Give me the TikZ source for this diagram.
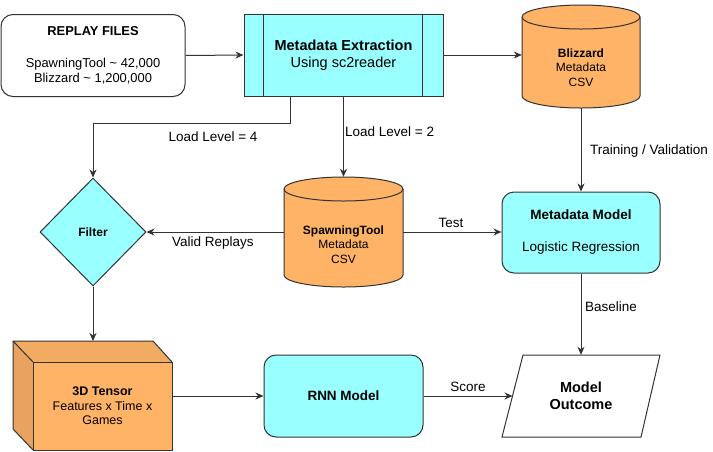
\documentclass[tikz,border=0pt]{standalone}
\usepackage{fontspec}
\setmainfont{Liberation Sans}
\usetikzlibrary{arrows.meta,calc,shapes.geometric}
\definecolor{cyanfill}{HTML}{99FFFF}
\definecolor{orangefill}{HTML}{FFB366}
\definecolor{tentopc}{HTML}{F2AC62}
\definecolor{tensidec}{HTML}{E8A360}
\definecolor{linecol}{HTML}{333333}
\tikzset{
  shp/.style={draw=linecol, line width=1pt},
  boxnode/.style={shp, align=center, inner sep=0pt},
  procbox/.style={boxnode, fill=cyanfill},
  roundbox/.style={boxnode, rounded corners=12pt},
  conn/.style={draw=linecol, line width=1pt, -{Stealth[length=8pt,width=7pt,inset=2.5pt]}},
  lbl/.style={inner sep=0pt, font=\fontsize{13.5}{15}\selectfont},
  cyltext/.style={align=center, inner sep=0pt, font=\fontsize{12}{14.5}\selectfont},
  ghost/.style={inner sep=0pt, rectangle},
}
\begin{document}
\begin{tikzpicture}[x=1pt,y=-1pt]
\useasboundingbox (0,0) rectangle (713,451);

% Replay files
\node[roundbox, minimum width=184pt, minimum height=82pt,
  font=\fontsize{12.9}{15.7}\selectfont] (replay) at (93,55.5)
  {\textbf{REPLAY FILES}\\[15.7pt]SpawningTool \textasciitilde{} 42,000\\Blizzard \textasciitilde{} 1,200,000};

% Metadata extraction (process)
\node[procbox, minimum width=199pt, minimum height=82pt,
  font=\fontsize{14.5}{17}\selectfont] (me) at (343.5,55)
  {\textbf{Metadata Extraction}\\Using sc2reader};
\draw[shp] ([xshift=20pt]me.north west) -- ([xshift=20pt]me.south west);
\draw[shp] ([xshift=-21pt]me.north east) -- ([xshift=-21pt]me.south east);

% Blizzard cylinder
\node[ghost, minimum width=118pt, minimum height=103pt] (bliz) at (581,56.5) {};
\path[shp, fill=orangefill] (522,17) -- (522,96)
  arc[start angle=180, end angle=360, x radius=59pt, y radius=12pt] -- (640,17)
  arc[start angle=0, end angle=180, x radius=59pt, y radius=12pt] -- cycle;
\draw[shp] (522,17) arc[start angle=180, end angle=360, x radius=59pt, y radius=12pt];
\node[cyltext] (bliztext) at (581,67.5) {\textbf{Blizzard}\\Metadata\\CSV};

% SpawningTool cylinder
\node[ghost, minimum width=119pt, minimum height=110pt] (spt) at (343.5,232) {};
\path[shp, fill=orangefill] (284,189) -- (284,275)
  arc[start angle=180, end angle=360, x radius=59.5pt, y radius=12pt] -- (403,189)
  arc[start angle=0, end angle=180, x radius=59.5pt, y radius=12pt] -- cycle;
\draw[shp] (284,189) arc[start angle=180, end angle=360, x radius=59.5pt, y radius=12pt];
\node[cyltext] (spttext) at (343.5,244.5) {\textbf{SpawningTool}\\Metadata\\CSV};

% Metadata model
\node[procbox, rounded corners=12pt, minimum width=158pt, minimum height=81pt,
  font=\fontsize{13.5}{16}\selectfont] (mm) at (581,232.5)
  {\textbf{Metadata Model}\\[16pt]Logistic Regression};

% Filter
\node[shp, diamond, fill=cyanfill, inner sep=0pt, minimum width=106pt, minimum height=108pt,
  font=\bfseries\fontsize{12}{14}\selectfont] (filter) at (93,232) {Filter};

% 3D tensor
\fill[tentopc] (13,341) -- (153,341) -- (172,362) -- (33,362) -- cycle;
\fill[tensidec] (13,341) -- (33,362) -- (33,450) -- (13,429) -- cycle;
\draw[shp, line join=round] (33,362) -- (13,341) -- (153,341) -- (172,362);
\draw[shp, line join=round] (13,341) -- (13,429) -- (33,450);
\node[boxnode, fill=orangefill, minimum width=139pt, minimum height=88pt,
  font=\fontsize{12.5}{14.5}\selectfont] (tensor) at (102.5,406)
  {\textbf{3D Tensor}\\Features x Time x\\Games};
\coordinate (tentop) at (93,341);

% RNN model
\node[procbox, rounded corners=12pt, minimum width=159pt, minimum height=82pt,
  font=\bfseries\fontsize{13.5}{16}\selectfont] (rnn) at (343.5,396) {RNN Model};

% Model outcome (parallelogram)
\draw[shp, fill=white, line join=miter] (523,355) -- (660,355) -- (641,437) -- (502,437) -- cycle;
\node[ghost, minimum width=139pt, minimum height=82pt, align=center,
  font=\bfseries\fontsize{14.5}{17}\selectfont] (out) at (581,396) {Model\\Outcome};
\coordinate (outW) at (512.5,396);

% Connectors
\draw[conn] (replay.east) -- (me.west);
\draw[conn] (me.east) -- (me.east -| bliz.west);
\draw[conn] (bliz.south) -- (mm.north);
\draw[conn] (me.south) -- (spt.north);
\draw[conn] ([xshift=47pt]me.south west) -- ++(0,27) -| (filter.north);
\draw[conn] (spt.west) -- (filter.east);
\draw[conn] (spt.east) -- (spt.east -| mm.west);
\draw[conn] (mm.south) -- (out.north);
\draw[conn] (filter.south) -- (tentop);
\draw[conn] (tensor.east |- rnn.west) -- (rnn.west);
\draw[conn] (rnn.east) -- (outW);

% Labels
\node[lbl] (l4) at (213,137) {Load Level = 4};
\node[lbl, anchor=west] (l2) at (345,131.5) {Load Level = 2};
\node[lbl, anchor=west] (ltv) at (590,151) {Training / Validation};
\node[lbl] (ltest) at (451,223) {Test};
\node[lbl] (lvalid) at (213,243) {Valid Replays};
\node[lbl, anchor=west] (lbase) at (585,307) {Baseline};
\node[lbl] (lscore) at (468,387) {Score};
\end{tikzpicture}
\end{document}
